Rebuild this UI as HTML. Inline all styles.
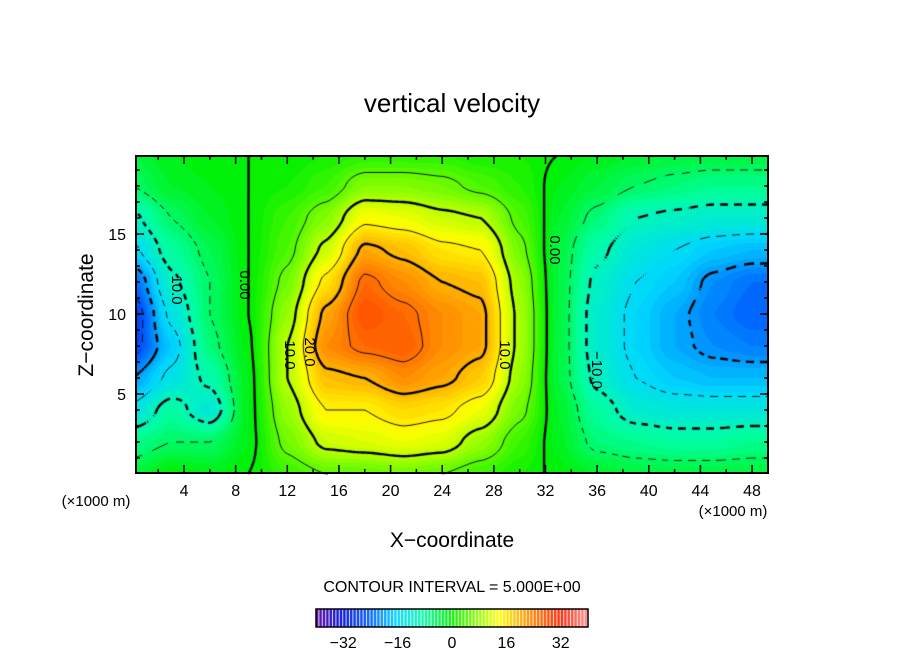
<!DOCTYPE html>
<html><head><meta charset="utf-8"><style>
body{margin:0;background:#fff;width:904px;height:654px;overflow:hidden;position:relative;font-family:"Liberation Sans",sans-serif}
canvas,svg{position:absolute;left:0;top:0}
</style></head><body>
<canvas id="cv" width="904" height="654"></canvas>
<svg id="sv" width="904" height="654"></svg>
<script>
// x positions (×1000 m) and z positions (×1000 m) of the sampled field
const xCoords=[0,3,6,9,12,15,18,21,24,27,30,33,36,39,42,45,48,51];
const zCoords=[0,2,4,6,8,10,12,14,16,18,20];
// vertical velocity values, one row per x column (bottom z=0 → top z=20)
const wValues=[
[-3,-7,-14,-20,-27,-28,-24,-16,-11,-5,-3],
[0,-5,-8,-14,-17,-14,-11,-8,-5,-2,-1],
[-1,-5,-13,-9,-6,-5,-5,-4,-2,-1,0],
[0,-1,-1,-1,-0.5,0,0,0,0,0,0],
[3,6,8,10,10,8,6,4,3,1,0],
[5,11,15,19,23,21,16,11,7,3,1],
[5,12,15,20,26,28,26,21,14,7,2],
[6,13,17,23,27,26,23,19,13,7,2],
[5,12,16,21,23,23,20,16,11,6,2],
[3,8,13,18,21,21,19,15,10,4,1],
[1,3,6,8,9,9,8,6,4,2,1],
[-0.5,-1.5,-2,-3,-3,-3,-3,-3,-2,-1,0],
[-2,-6,-8,-11,-12,-12,-11,-9,-6,-3,-1],
[-3,-7,-12,-15,-16,-16,-15,-13,-10,-5,-2],
[-3,-8,-13,-17,-19,-19,-17,-15,-11,-6,-3],
[-3,-8,-13,-18,-21,-22,-21,-17,-12,-7,-3],
[-3,-7,-13,-18,-22,-24,-23,-18,-12,-7,-3],
[-3,-7,-13,-18,-22,-24,-23,-18,-12,-7,-3]];
const contourLevels=[-25,-20,-15,-10,-5,0,5,10,15,20,25];
const xTicks=[4,8,12,16,20,24,28,32,36,40,44,48];
const zTicks=[5,10,15];
const barTicks=[-32,-16,0,16,32];

const L=136,R=768,T=156,B=473;
const sx=x=>132.4+x*12.909, sz=z=>474-z*16;
const ix=px=>(px-132.4)/12.909, iz=py=>(474-py)/16;
function field(x,z){
  let i=0;while(i<xCoords.length-2&&x>xCoords[i+1])i++;
  let j=0;while(j<zCoords.length-2&&z>zCoords[j+1])j++;
  let tx=(x-xCoords[i])/(xCoords[i+1]-xCoords[i]),tz=(z-zCoords[j])/(zCoords[j+1]-zCoords[j]);
  tx=Math.max(0,Math.min(1,tx));tz=Math.max(0,Math.min(1,tz));
  tx=tx*tx*(3-2*tx)*0.6+tx*0.4;tz=tz*tz*(3-2*tz)*0.6+tz*0.4;
  const a=wValues[i][j],b=wValues[i+1][j],c=wValues[i][j+1],d=wValues[i+1][j+1];
  return a*(1-tx)*(1-tz)+b*tx*(1-tz)+c*(1-tx)*tz+d*tx*tz;
}
const stops=[[-40,[96,0,160]],[-32,[0,16,224]],[-24,[0,96,255]],[-16,[0,216,255]],[-8,[0,255,160]],[0,[0,240,0]],[8,[150,255,0]],[14,[255,255,0]],[24,[255,128,0]],[32,[255,32,0]],[40,[255,140,140]]];
function col(v){
  v=Math.floor(v)+0.5;v=Math.max(-40,Math.min(40,v));
  for(let k=0;k<stops.length-1;k++){const[a,ca]=stops[k],[b,cb]=stops[k+1];
    if(v<=b){const t=(v-a)/(b-a);return ca.map((c,i)=>Math.round(c+(cb[i]-c)*t));}}
  return stops[stops.length-1][1];
}
const cv=document.getElementById('cv'),ctx=cv.getContext('2d');
const img=ctx.createImageData(R-L,B-T);
for(let py=0;py<B-T;py++)for(let px=0;px<R-L;px++){
  const c=col(field(ix(L+px+0.5),iz(T+py+0.5)));const o=(py*(R-L)+px)*4;
  img.data[o]=c[0];img.data[o+1]=c[1];img.data[o+2]=c[2];img.data[o+3]=255;}
ctx.putImageData(img,L,T);
const s=2;
ctx.strokeStyle='#000';
contourLevels.forEach(lv=>{
  ctx.lineWidth=(lv%10===0)?2.4:0.9;
  ctx.beginPath();
  for(let py=T;py<B;py+=s)for(let px=L;px<R;px+=s){
    const p=[[px,py],[px+s,py],[px+s,py+s],[px,py+s]];
    const v=p.map(q=>field(ix(q[0]),iz(q[1]))-lv);
    const pts=[];
    for(let e=0;e<4;e++){const a=v[e],b=v[(e+1)%4];
      if((a<0)!==(b<0)){const t=a/(a-b);const A=p[e],Bq=p[(e+1)%4];pts.push([A[0]+(Bq[0]-A[0])*t,A[1]+(Bq[1]-A[1])*t]);}}
    if(lv<0&&Math.floor((px+py)/7)%2===1)continue;
    for(let k=0;k+1<pts.length;k+=2){ctx.moveTo(pts[k][0],pts[k][1]);ctx.lineTo(pts[k+1][0],pts[k+1][1]);}
  }
  ctx.stroke();
});
const cbL=316,cbR=588,cbT=609,cbB=627;
ctx.fillStyle='#fff';ctx.fillRect(cbL,cbT,cbR-cbL,cbB-cbT);
for(let i=0;i<80;i++){const v=-40+i+0.5;const c=col(v);ctx.fillStyle=`rgb(${c})`;
  ctx.fillRect(cbL+(cbR-cbL)*i/80,cbT,(cbR-cbL)/80*0.7,cbB-cbT);}

const sv=document.getElementById('sv');const NS='http://www.w3.org/2000/svg';
function add(tag,attrs,text){const e=document.createElementNS(NS,tag);for(const k in attrs)e.setAttribute(k,attrs[k]);if(text!==undefined)e.textContent=text;sv.appendChild(e);return e;}
let e;
e=add('rect',{x:L,y:T,width:R-L,height:B-T,fill:'none',stroke:'#000','stroke-width':2});


e=add('rect',{x:cbL,y:cbT,width:cbR-cbL,height:cbB-cbT,fill:'none',stroke:'#000','stroke-width':1.5});


for(let x=2;x<=49;x+=2){const len=x%4===0?8:4;const X=sx(x);
  add('line',{x1:X,y1:B,x2:X,y2:B-len,stroke:'#000','stroke-width':1.5});
  add('line',{x1:X,y1:T,x2:X,y2:T+len,stroke:'#000','stroke-width':1.5});}
for(let z=1;z<=19;z++){const len=z%5===0?8:4;const Y=sz(z);
  add('line',{x1:L,y1:Y,x2:L+len,y2:Y,stroke:'#000','stroke-width':1.5});
  add('line',{x1:R,y1:Y,x2:R-len,y2:Y,stroke:'#000','stroke-width':1.5});}
xTicks.forEach(t=>{e=add('text',{x:sx(t),y:496,'text-anchor':'middle','font-size':16},String(t));

});
zTicks.forEach(t=>{e=add('text',{x:126,y:sz(t)+6,'text-anchor':'end','font-size':16},String(t));

});
barTicks.forEach(t=>{e=add('text',{x:cbL+(t+40)/80*(cbR-cbL),y:648,'text-anchor':'middle','font-size':16},(t<0?'−':'')+Math.abs(t));

});
e=add('text',{x:452,y:112,'text-anchor':'middle','font-size':26},'vertical velocity');


e=add('text',{x:452,y:547,'text-anchor':'middle','font-size':21},'X−coordinate');


e=add('text',{x:0,y:0,'text-anchor':'middle','font-size':21,transform:'translate(93,315) rotate(-90)'},'Z−coordinate');


e=add('text',{x:96,y:506,'text-anchor':'middle','font-size':15},'(×1000 m)');


e=add('text',{x:733,y:516,'text-anchor':'middle','font-size':15},'(×1000 m)');


e=add('text',{x:452,y:592,'text-anchor':'middle','font-size':16},'CONTOUR INTERVAL = 5.000E+00');


[['0.00',240,285],['10.0',285,355],['20.0',305,352],['10.0',500,355],['0.00',550,250],['−10.0',592,370],['10.0',172,290]].forEach(l=>{
  e=add('text',{x:0,y:0,'text-anchor':'middle','font-size':15,transform:`translate(${l[1]},${l[2]}) rotate(90)`},l[0]);
  
  });
</script>
</body></html>
